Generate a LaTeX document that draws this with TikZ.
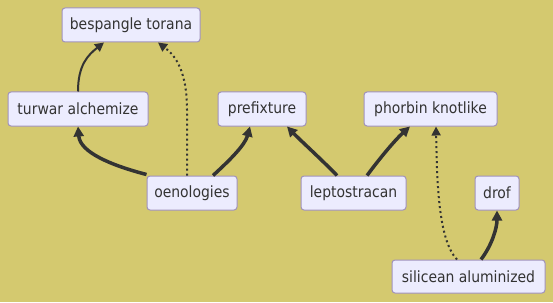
\documentclass[tikz,border=0pt]{standalone}
\usepackage{fontspec}
\setmainfont{DejaVu Sans Condensed}
\usetikzlibrary{arrows.meta}
\definecolor{bgc}{HTML}{D4C96F}
\definecolor{boxfill}{HTML}{ECECFE}
\definecolor{boxline}{HTML}{A092BC}
\definecolor{ink}{HTML}{333333}
\begin{document}
\begin{tikzpicture}[x=1pt,y=-1pt,
  box/.style={draw=boxline,fill=boxfill,line width=1pt,rounded corners=3pt,
    minimum height=34pt,inner sep=0pt,text=ink,
    font=\fontsize{15.5}{18}\selectfont},
  link/.style={draw=ink,line width=2pt,-{Triangle[length=9pt,width=9pt]}},
  thicklink/.style={draw=ink,line width=3.5pt,-{Triangle[length=10pt,width=10pt]}},
  dotlink/.style={draw=ink,line width=2pt,dash pattern=on 2pt off 3pt,
    -{Triangle[length=9pt,width=9pt]}}]
\fill[bgc] (0,0) rectangle (553,302);
\useasboundingbox (0,0) rectangle (553,302);

\node[box,minimum width=138pt] (bes) at (131,25) {bespangle torana};
\node[box,minimum width=140pt] (tur) at (78,109) {turwar alchemize};
\node[box,minimum width=88pt] (pre) at (262,109) {prefixture};
\node[box,minimum width=133pt] (pho) at (430.5,109) {phorbin knotlike};
\node[box,minimum width=90pt] (oen) at (192,193) {oenologies};
\node[box,minimum width=105pt] (lep) at (353.5,193) {leptostracan};
\node[box,minimum width=44pt] (dro) at (497,193) {drof};
\node[box,minimum width=153pt,minimum height=33pt] (sil) at (468.5,276.5) {silicean aluminized};

\draw[link] (tur.north) .. controls (78,65) and (88,55) .. ([xshift=-27pt]bes.south);
\draw[dotlink] ([xshift=-5pt]oen.north) -- (187,110) .. controls (187,72) and (176,56) .. ([xshift=27pt]bes.south);
\draw[thicklink] ([yshift=1pt]oen.north west) .. controls (110,165) and (80,152) .. (tur.south);
\draw[thicklink] ([xshift=21pt]oen.north) .. controls (230,160) and (245,145) .. ([xshift=-12pt]pre.south);
\draw[thicklink] ([xshift=-16.5pt]lep.north) .. controls (320,158) and (300,140) .. ([xshift=25pt]pre.south);
\draw[thicklink] ([xshift=13.5pt]lep.north) .. controls (380,158) and (395,140) .. ([xshift=-20.5pt]pho.south);
\draw[dotlink] ([xshift=-11.5pt]sil.north) .. controls (438,240) and (437,180) .. ([xshift=5.5pt]pho.south);
\draw[thicklink] ([xshift=12.5pt]sil.north) .. controls (492,245) and (497,228) .. (dro.south);
\end{tikzpicture}
\end{document}
